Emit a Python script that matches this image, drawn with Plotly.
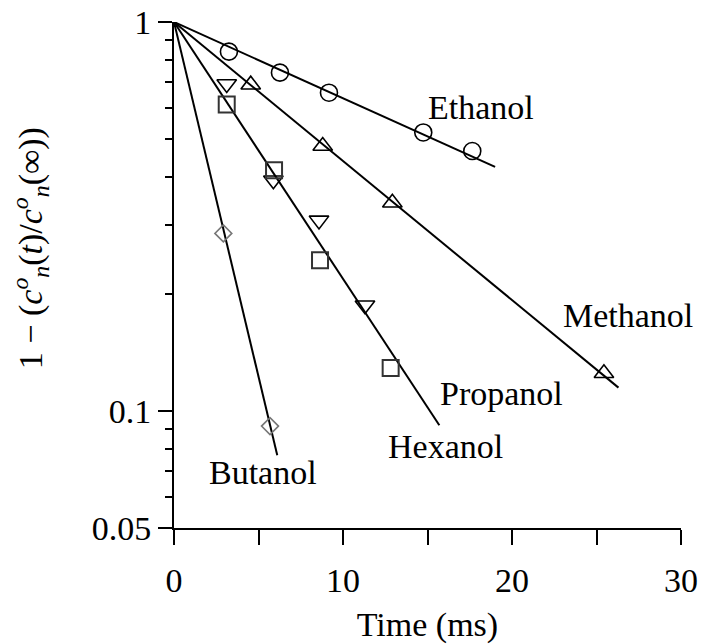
import math
import plotly.graph_objects as go

# ---- data ----
ethanol_t = [3.25, 6.27, 9.17, 14.75, 17.65]
ethanol_y = [0.839, 0.741, 0.658, 0.520, 0.466]
ethanol_fit_t = [0, 19.0]
ethanol_fit_y = [1.0, 0.424]

methanol_t = [4.54, 8.80, 12.92, 25.44]
methanol_y = [0.690, 0.480, 0.343, 0.125]
methanol_fit_t = [0, 26.3]
methanol_fit_y = [1.0, 0.1148]

propanol_t = [3.12, 5.88, 8.58, 11.30]
propanol_y = [0.693, 0.392, 0.309, 0.187]

hexanol_t = [3.12, 5.92, 8.64, 12.82]
hexanol_y = [0.614, 0.416, 0.244, 0.129]
prop_hex_fit_t = [0, 15.7]
prop_hex_fit_y = [1.0, 0.0919]

butanol_t = [2.92, 5.68]
butanol_y = [0.286, 0.0914]
butanol_fit_t = [0, 6.11]
butanol_fit_y = [1.0, 0.0769]

x_tick_vals = [0, 10, 20, 30]
x_tick_text = ["0", "10", "20", "30"]
x_minor_vals = [5, 15, 25]
y_tick_vals = [0.05, 0.1, 1]
y_tick_text = ["0.05", "0.1", "1"]
y_minor_vals = [0.06, 0.07, 0.08, 0.09, 0.2, 0.3, 0.4, 0.5, 0.6, 0.7, 0.8, 0.9]

label_names = ["Ethanol", "Methanol", "Propanol", "Hexanol", "Butanol"]
label_x = [18.17, 26.86, 19.35, 16.04, 5.27]
label_y = [0.604, 0.176, 0.111, 0.081, 0.0695]

FONT = "Liberation Serif"
FS = 34

fig = go.Figure()

def fit(t, y):
    fig.add_trace(go.Scatter(x=t, y=y, mode="lines",
                             line=dict(color="black", width=2),
                             showlegend=False, hoverinfo="skip"))

def pts(t, y, symbol, size, color, lw=1.6):
    fig.add_trace(go.Scatter(x=t, y=y, mode="markers",
                             marker=dict(symbol=symbol, size=size,
                                         color=color,
                                         line=dict(color=color, width=lw)),
                             showlegend=False, cliponaxis=False))

fit(ethanol_fit_t, ethanol_fit_y)
fit(methanol_fit_t, methanol_fit_y)
fit(prop_hex_fit_t, prop_hex_fit_y)
fit(butanol_fit_t, butanol_fit_y)

pts(ethanol_t, ethanol_y, "circle-open", 17, "black")
pts(methanol_t, methanol_y, "triangle-up-open", 17, "black")
pts(propanol_t, propanol_y, "triangle-down-open", 17, "black")
pts(hexanol_t, hexanol_y, "square-open", 16, "#333333", 2)
pts(butanol_t, butanol_y, "diamond-open", 13, "#777777")

for name, lx, ly in zip(label_names, label_x, label_y):
    fig.add_annotation(x=lx, y=math.log10(ly), text=name, showarrow=False,
                       xanchor="center", yanchor="middle",
                       font=dict(family=FONT, size=FS, color="black"))

ytitle = ("1 − (<i>c</i><sup><i>o</i></sup><sub><i>n</i></sub>(<i>t</i>)/"
          "<i>c</i><sup><i>o</i></sup><sub><i>n</i></sub>(∞))")
fig.add_annotation(xref="paper", yref="paper", x=-0.284, y=0.553,
                   text=ytitle, textangle=-90, showarrow=False,
                   xanchor="center", yanchor="middle",
                   font=dict(family=FONT, size=FS, color="black"))

fig.update_layout(
    width=701, height=644,
    margin=dict(l=174, r=20, t=22, b=116, autoexpand=False),
    paper_bgcolor="white", plot_bgcolor="white",
    font=dict(family=FONT, size=FS, color="black"),
    xaxis=dict(range=[0, 30], tickmode="array", tickvals=x_tick_vals,
               ticktext=x_tick_text, ticks="outside", ticklen=15, tickwidth=2,
               tickcolor="black", showline=True, linecolor="black", linewidth=2,
               showgrid=False, zeroline=False, automargin=False,
               ticklabelstandoff=6, ticklabeloverflow="allow",
               minor=dict(tickmode="array", tickvals=x_minor_vals,
                          ticks="outside", ticklen=15, tickwidth=2,
                          tickcolor="black", showgrid=False),
               title=dict(text="Time (ms)", standoff=28,
                          font=dict(family=FONT, size=FS))),
    yaxis=dict(type="log", range=[math.log10(0.05), 0], tickmode="array",
               tickvals=y_tick_vals, ticktext=y_tick_text, ticks="outside",
               ticklen=14, tickwidth=2, tickcolor="black", showline=True,
               linecolor="black", linewidth=2, showgrid=False, zeroline=False,
               automargin=False, ticklabeloverflow="allow",
               minor=dict(tickmode="array", tickvals=y_minor_vals,
                          ticks="outside", ticklen=7, tickwidth=2,
                          tickcolor="black", showgrid=False)),
)

fig.write_html("out.html",
               config={"displayModeBar": False},
               post_script="document.body.style.margin='0';"
                           "document.body.style.overflow='hidden';")
